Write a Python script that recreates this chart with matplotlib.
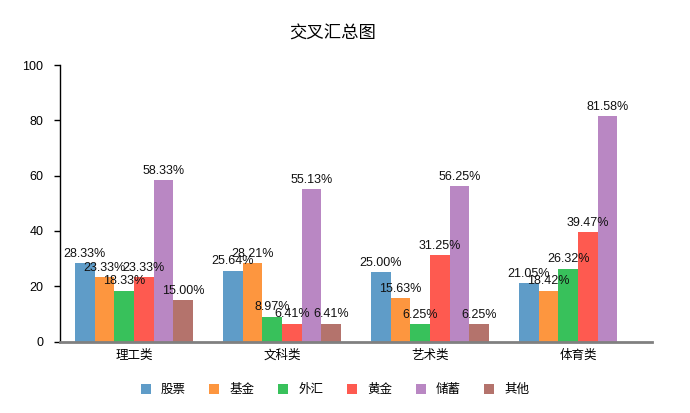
import numpy as np
import matplotlib
matplotlib.use('Agg')
import matplotlib.pyplot as plt

plt.rcParams['font.family'] = ['Liberation Sans', 'Noto Sans CJK SC', 'DejaVu Sans']

categories = ['理工类', '文科类', '艺术类', '体育类']
series = ['股票', '基金', '外汇', '黄金', '储蓄', '其他']
values = [
    [28.33, 25.64, 25.00, 21.05],   # 股票
    [23.33, 28.21, 15.63, 18.42],   # 基金
    [18.33, 8.97, 6.25, 26.32],     # 外汇
    [23.33, 6.41, 31.25, 39.47],    # 黄金
    [58.33, 55.13, 56.25, 81.58],   # 储蓄
    [15.00, 6.41, 6.25, 0.00],      # 其他
]
colors = ['#5f9cc8', '#fd963f', '#38c15b', '#fe5a50', '#b987c3', '#b4736c']

fig = plt.figure(figsize=(6.9, 4.13), dpi=100)
ax = fig.add_axes([60/690, 1-341.5/413, 592/690, (341.5-65)/413])

x = np.arange(len(categories))
w = 0.8 / len(series)
for i, name in enumerate(series):
    pos = x - 0.4 + w * (i + 0.5)
    ax.bar(pos, values[i], width=w, color=colors[i], label=name)
    for p, v in zip(pos, values[i]):
        if v > 0:
            ax.text(p, v + 1.2, '%.2f%%' % v, ha='center', va='bottom',
                    fontsize=9, color='#111111')

ax.set_xlim(-0.5, 3.5)
ax.set_ylim(0, 100)
ax.set_yticks(range(0, 101, 20))
ax.set_xticks(x)
ax.set_xticklabels(categories)
ax.tick_params(axis='x', length=0, pad=6, labelsize=9)
ax.tick_params(axis='y', length=4, width=1, labelsize=9, pad=8)
for s in ['top', 'right']:
    ax.spines[s].set_visible(False)
ax.spines['left'].set_color('black')
ax.spines['left'].set_linewidth(1)
ax.spines['bottom'].set_color('#808080')
ax.spines['bottom'].set_linewidth(2)

fig.text(333/690, 1-34/413, '交叉汇总图', ha='center', va='center', fontsize=12.5)

fig.legend(loc='center', bbox_to_anchor=(335/690, 1-390/413), ncol=6,
           frameon=False, fontsize=9, handlelength=0.8, handleheight=0.8,
           columnspacing=1.9, handletextpad=0.8)

fig.savefig('out.png', dpi=100)
